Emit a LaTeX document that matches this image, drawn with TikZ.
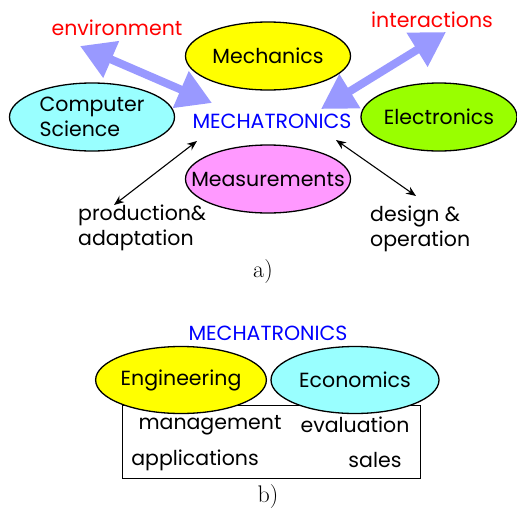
\documentclass[tikz,border=0pt]{standalone}
\usepackage{fontspec}
\newfontfamily\avg{Poppins}
\usetikzlibrary{shapes.geometric,arrows.meta}
\definecolor{myyellow}{HTML}{FFFF00}
\definecolor{mycyan}{HTML}{99FFFF}
\definecolor{mygreen}{HTML}{99FF00}
\definecolor{mymagenta}{HTML}{FF99FF}
\definecolor{arrowblue}{HTML}{9999FF}
\begin{document}
\begin{tikzpicture}[x=1pt,y=-1pt,
 oval/.style={ellipse, draw=black, line width=1.3pt, inner sep=0pt, minimum width=165pt, minimum height=68pt, font=\avg\fontsize{20.5}{25}\selectfont},
 lbl/.style={font=\avg\fontsize{20.5}{25}\selectfont, inner sep=0pt},
 bigarrow/.style={draw=arrowblue, line width=8pt, {Triangle[length=34pt,width=38pt]}-{Triangle[length=34pt,width=38pt]}},
 thinarrow/.style={draw=black, line width=1.1pt, {Stealth[length=10pt,width=8pt]}-{Stealth[length=10pt,width=8pt]}},
 sublabel/.style={font=\fontsize{24}{26}\selectfont, inner sep=0pt}
]
\useasboundingbox (0,0) rectangle (517,509);
% part a
\node[oval, fill=myyellow] (mech) at (268,56) {Mechanics};
\node[oval, fill=mycyan, align=left] (cs) at (92,117) {Computer\\Science};
\node[oval, fill=mygreen, minimum width=156pt] (elec) at (439,117) {Electronics};
\node[oval, fill=mymagenta] (meas) at (268,179) {\makebox[0pt]{Measurements}};
\node[lbl, text=blue] (mt) at (272,121) {MECHATRONICS};
\node[lbl, text=red] (env) at (117,28) {environment};
\node[lbl, text=red] (inter) at (432,20) {interactions};
\node[lbl, align=left, anchor=west] (prod) at (78,228) {production\&\\adaptation};
\node[lbl, align=left, anchor=west] (des) at (370,229) {design \&\\operation};
\coordinate (envA) at (80,46);
\coordinate (envB) at (212,103);
\coordinate (intA) at (321,109);
\coordinate (intB) at (446,32);
\coordinate (pA) at (197,141);
\coordinate (pB) at (114,205);
\coordinate (dA) at (336,140);
\coordinate (dB) at (416,196);
\draw[bigarrow] (envA) -- (envB);
\draw[bigarrow] (intA) -- (intB);
\draw[thinarrow] (pA) -- (pB);
\draw[thinarrow] (dA) -- (dB);
\node[sublabel] (la) at (263,272) {a)};
% part b
\node[lbl, text=blue] (mt2) at (268,333) {MECHATRONICS};
\node[draw=black, line width=0.9pt, minimum width=298pt, minimum height=73pt, inner sep=0pt] (box) at (271,441.5) {};
\node[oval, fill=myyellow, minimum width=168pt, minimum height=67pt] (eng) at (181,380) {Engineering};
\node[oval, fill=mycyan, minimum width=168pt, minimum height=67pt] (eco) at (355,380) {Economics};
\node[lbl] (mgmt) at (210,425) {management};
\node[lbl] (eval) at (355,425) {evaluation};
\node[lbl] (appl) at (195,460) {applications};
\node[lbl] (sales) at (375,460) {sales};
\node[sublabel] (lb) at (268,497) {b)};
\end{tikzpicture}
\end{document}
